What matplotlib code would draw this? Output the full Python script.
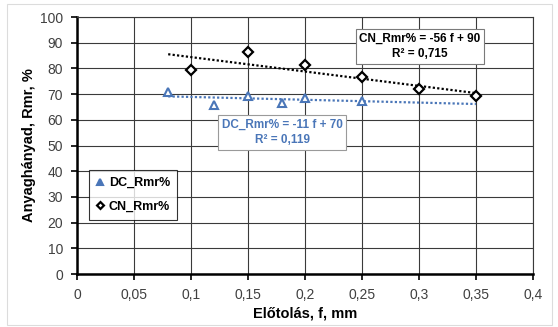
"""Material ratio vs feed, DC and CN series with linear trendlines."""
import matplotlib

matplotlib.use("Agg")
import matplotlib.pyplot as plt  # noqa: E402
from matplotlib.patches import Rectangle  # noqa: E402

plt.rcParams["font.family"] = ["Liberation Sans", "DejaVu Sans"]

# measured points
dc_f = [0.08, 0.12, 0.15, 0.18, 0.20, 0.25]
dc_rmr = [70.8, 65.6, 69.4, 66.7, 68.3, 67.4]
cn_f = [0.10, 0.15, 0.20, 0.25, 0.30, 0.35]
cn_rmr = [79.4, 86.2, 81.4, 76.8, 71.9, 69.3]

# linear trendlines: slope, intercept, R^2
dc_fit = (-11, 70, "0,119")
cn_fit = (-56, 90, "0,715")
trend_range = [0.08, 0.35]

x_ticks = [0, 0.05, 0.1, 0.15, 0.2, 0.25, 0.3, 0.35, 0.4]
y_ticks = list(range(0, 101, 10))

blue = "#4a76b8"

fig = plt.figure(figsize=(5.58, 3.27), dpi=100)
ax = fig.add_axes([0.138, 0.162, 0.817, 0.786])

fig.patches.append(Rectangle((0.013, 0.006), 0.976, 0.982, transform=fig.transFigure,
                             fill=False, edgecolor="#dcdcdc", lw=0.8))

ax.grid(True, color="#3a3a3a", lw=0.8)
ax.set_axisbelow(True)

ax.plot(dc_f, dc_rmr, linestyle="none", marker="^", ms=6, mfc="white", mec=blue,
        mew=1.5, label="DC_Rmr%", zorder=4)
ax.plot(cn_f, cn_rmr, linestyle="none", marker="D", ms=5, mfc="white", mec="black",
        mew=1.6, label="CN_Rmr%", zorder=4)

for (k, b, _), color in [(dc_fit, blue), (cn_fit, "black")]:
    ys = [k * f + b for f in trend_range]
    ax.plot(trend_range, ys, linestyle=(0, (1, 1)), color=color, lw=1.6, zorder=3)

box_kw = dict(ha="center", va="center", fontsize=8.5, fontweight="bold",
              linespacing=1.4, zorder=5)
ax.text(0.18, 55, f"DC_Rmr% = {dc_fit[0]} f + {dc_fit[1]}\nR² = {dc_fit[2]}",
        color=blue,
        bbox=dict(boxstyle="square,pad=0.3", fc="white", ec="#9a9a9a", lw=0.8), **box_kw)
ax.text(0.301, 88.6, f"CN_Rmr% = {cn_fit[0]} f + {cn_fit[1]}\nR² = {cn_fit[2]}",
        color="black",
        bbox=dict(boxstyle="square,pad=0.3", fc="white", ec="#7a7a7a", lw=0.8), **box_kw)

ax.set_xlim(0, 0.4)
ax.set_ylim(0, 100)
ax.set_xticks(x_ticks)
ax.set_xticklabels([f"{t:g}".replace(".", ",") for t in x_ticks])
ax.set_yticks(y_ticks)
ax.tick_params(axis="both", direction="out", length=4, width=1.2, labelsize=10,
               labelcolor="#404040", pad=6)

for side in ["top", "right"]:
    ax.spines[side].set_color("#3a3a3a")
    ax.spines[side].set_linewidth(0.8)
for side in ["left", "bottom"]:
    ax.spines[side].set_linewidth(1.8)

ax.set_xlabel("Előtolás, f, mm", fontsize=10.5, fontweight="bold", labelpad=3)
ax.set_ylabel("Anyaghányad, Rmr, %", fontsize=10.5, fontweight="bold", labelpad=3)

leg = ax.legend(loc="upper left", bbox_to_anchor=(0.012, 0.43),
                frameon=True, fancybox=False, edgecolor="black", handlelength=0.6,
                handletextpad=0.4, borderpad=0.6, labelspacing=0.9, markerscale=0.7,
                prop={"weight": "bold", "size": 9})
leg.get_frame().set_linewidth(0.8)
leg.legend_handles[0].set_markerfacecolor(blue)

fig.savefig("out.png", dpi=100)
